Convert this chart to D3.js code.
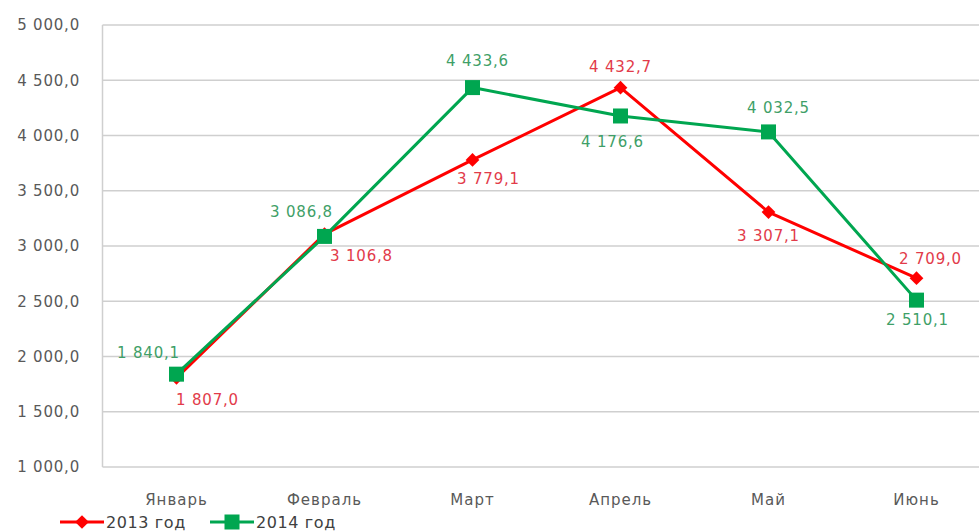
<!DOCTYPE html>
<html>
<head>
<meta charset="utf-8">
<script src="https://cdn.jsdelivr.net/npm/d3@7"></script>
<style>
	body { margin: 0; background: #fff; }
	svg { display: block; font-family: "DejaVu Sans", sans-serif; }
</style>
</head>
<body>
<div id="chart"></div>
<script>

	var months = ['Январь', 'Февраль', 'Март', 'Апрель', 'Май', 'Июнь']
	var values_2013 = [1807.0, 3106.8, 3779.1, 4432.7, 3307.1, 2709.0]
	var values_2014 = [1840.1, 3086.8, 4433.6, 4176.6, 4032.5, 2510.1]
	var series_names = ['2013 год', '2014 год']
	var y_ticks = [1000, 1500, 2000, 2500, 3000, 3500, 4000, 4500, 5000]

	// where each data label sits relative to its point
	var label_offsets_2013 = [[31, 22], [37, 22], [16, 19], [0, -21], [0, 24], [14, -19]]
	var label_offsets_2014 = [[-28, -21], [-23, -25], [5, -27], [-8, 26], [10, -24], [1, 20]]

	var width = 979,
		height = 531,
		plot_left = 102.5,
		plot_right = 990.5,
		plot_top = 25,
		plot_bottom = 467

	var locale = d3.formatLocale({decimal: ',', thousands: ' ', grouping: [3], currency: ['', '']})
	var format = locale.format(',.1f')

	var svg = d3.select('#chart')
		.append('svg')
		.attr('width', width)
		.attr('height', height)

	var x = d3.scaleBand()
		.domain(months)
		.range([plot_left, plot_right])

	var y = d3.scaleLinear()
		.domain([1000, 5000])
		.range([plot_bottom, plot_top])

	var cx = d => x(d) + x.bandwidth() / 2

	// gridlines
	svg.append('g')
		.selectAll('line')
		.data(y_ticks)
		.join('line')
			.attr('x1', plot_left)
			.attr('x2', width)
			.attr('y1', d => y(d))
			.attr('y2', d => y(d))
			.attr('stroke', '#cfcfcf')
			.attr('stroke-width', 1.5)

	svg.append('line')
		.attr('x1', plot_left)
		.attr('x2', plot_left)
		.attr('y1', plot_top)
		.attr('y2', plot_bottom)
		.attr('stroke', '#cfcfcf')
		.attr('stroke-width', 1.5)

	// y tick labels
	svg.append('g')
		.selectAll('text')
		.data(y_ticks)
		.join('text')
			.attr('x', 80)
			.attr('y', d => y(d))
			.attr('dy', '0.35em')
			.attr('text-anchor', 'end')
			.attr('fill', '#595959')
			.attr('font-size', 15)
			.attr('letter-spacing', 0.8)
			.text(d => format(d))

	// category labels
	svg.append('g')
		.selectAll('text')
		.data(months)
		.join('text')
			.attr('x', d => cx(d))
			.attr('y', 500)
			.attr('dy', '0.35em')
			.attr('text-anchor', 'middle')
			.attr('fill', '#595959')
			.attr('font-size', 15)
			.attr('letter-spacing', 1)
			.text(d => d)

	var line = d3.line()
		.x((d, i) => cx(months[i]))
		.y(d => y(d))

	var series = [
		{name: series_names[0], values: values_2013, offsets: label_offsets_2013,
			color: '#ff0000', label_color: '#e23b4a', marker: 'diamond'},
		{name: series_names[1], values: values_2014, offsets: label_offsets_2014,
			color: '#00a650', label_color: '#3f9f68', marker: 'square'}
	]

	var draw_marker = (g, s, px, py) => {
		if (s.marker == 'diamond') {
			g.append('path')
				.attr('d', d3.symbol(d3.symbolDiamond2, 120)())
				.attr('transform', 'translate(' + px + ',' + py + ')')
				.attr('fill', s.color)
		} else {
			g.append('rect')
				.attr('x', px - 7.5)
				.attr('y', py - 7.5)
				.attr('width', 15)
				.attr('height', 15)
				.attr('fill', s.color)
		}
	}

	series.forEach(s => {

		var g = svg.append('g')

		g.append('path')
			.datum(s.values)
			.attr('fill', 'none')
			.attr('stroke', s.color)
			.attr('stroke-width', 3)
			.attr('stroke-linejoin', 'round')
			.attr('d', line)

		s.values.forEach((v, i) => draw_marker(g, s, cx(months[i]), y(v)))

	})

	series.forEach(s => {

		svg.append('g')
			.selectAll('text')
			.data(s.values)
			.join('text')
				.attr('x', (d, i) => cx(months[i]) + s.offsets[i][0])
				.attr('y', (d, i) => y(d) + s.offsets[i][1])
				.attr('dy', '0.35em')
				.attr('text-anchor', 'middle')
				.attr('fill', s.label_color)
				.attr('font-size', 15)
				.attr('letter-spacing', 0.8)
				.text(d => format(d))

	})

	// legend
	var legend = svg.append('g')
		.attr('transform', 'translate(0,522)')

	var legend_x = [60, 210]

	series.forEach((s, i) => {

		var lx = legend_x[i]

		legend.append('line')
			.attr('x1', lx)
			.attr('x2', lx + 44)
			.attr('stroke', s.color)
			.attr('stroke-width', 3)

		draw_marker(legend, s, lx + 22, 0)

		legend.append('text')
			.attr('x', lx + 46)
			.attr('dy', '0.35em')
			.attr('fill', '#404040')
			.attr('font-size', 16)
			.attr('letter-spacing', 0.6)
			.text(s.name)

	})

</script>
</body>
</html>
